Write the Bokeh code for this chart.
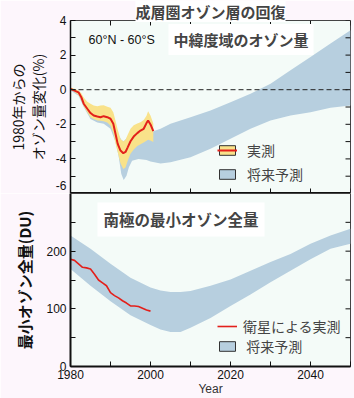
import math
from bokeh.plotting import figure
from bokeh.layouts import column
from bokeh.models import (Range1d, FixedTicker, Span, Label,
                          Legend, LegendItem, ColumnDataSource)
from bokeh.embed import file_html
from bokeh.resources import INLINE

JP = "Noto Sans CJK JP"
SANS = "Liberation Sans"

# ---------------- data: mid-latitude ozone change (%) ----------------
obs_years = [1980.0, 1981.0, 1982.0, 1982.7, 1983.3, 1984.2, 1985.0, 1985.8, 1986.7,
             1987.5, 1988.3, 1989.2, 1990.0, 1990.7, 1991.25, 1991.8, 1992.5, 1993.2,
             1993.75, 1994.3, 1995.0, 1995.8, 1996.7, 1997.5, 1998.3, 1999.0, 1999.4,
             2000.0, 2000.7]
obs_change = [0.05, -0.05, -0.15, -0.43, -0.81, -1.10, -1.35, -1.49, -1.55,
              -1.59, -1.53, -1.59, -1.68, -1.97, -2.55, -3.13, -3.52, -3.67,
              -3.60, -3.33, -2.98, -2.71, -2.51, -2.36, -2.26, -1.93, -1.78,
              -2.01, -2.40]
obs_upper = [0.12, 0.05, -0.04, -0.20, -0.45, -0.70, -0.81, -0.91, -0.95,
             -0.92, -0.90, -0.98, -1.05, -1.30, -1.80, -2.30, -2.85, -3.00,
             -2.90, -2.60, -2.26, -2.05, -1.95, -1.88, -1.75, -1.50, -1.24,
             -1.49, -1.95]
obs_lower = [0.00, -0.12, -0.30, -0.60, -0.95, -1.30, -1.59, -1.70, -1.78,
             -1.80, -1.82, -1.90, -2.07, -2.50, -3.10, -3.60, -4.25, -4.58,
             -4.50, -4.10, -3.70, -3.45, -3.25, -3.15, -3.05, -2.95, -2.90,
             -2.94, -3.03]

mid_years = [1980, 1982, 1983.3, 1985, 1986.7, 1988.3, 1990, 1991.25, 1992, 1992.7,
             1993.3, 1994, 1994.6, 1995.4, 1997, 1999, 2000, 2002.5, 2005, 2010,
             2015, 2020, 2025, 2030, 2035, 2040, 2045, 2050]
mid_upper = [0.0, -0.2, -0.8, -1.2, -1.45, -1.5, -1.6, -2.2, -2.6, -2.9,
             -3.0, -2.8, -2.6, -2.4, -2.4, -2.4, -2.46, -2.25, -1.97, -1.59,
             -1.2, -0.72, -0.23, 0.35, 1.12, 1.89, 2.67, 3.44]
mid_lower = [-0.05, -0.35, -1.0, -1.7, -1.9, -1.97, -2.26, -3.03, -3.8, -4.87,
             -5.22, -4.97, -4.48, -4.1, -4.0, -4.06, -4.15, -4.26, -4.2, -3.91,
             -3.42, -2.84, -2.26, -1.78, -1.49, -1.3, -1.04, -0.91]

# ---------------- data: Antarctic minimum total ozone (DU) ----------------
ant_years = list(range(1980, 2001))
ant_min = [186, 184, 178, 172, 171, 169, 160, 150, 145, 140, 128,
           123, 119, 114, 110, 105, 105, 104, 101, 98, 96]

proj_years = [1980, 1985, 1990, 1995, 2000, 2002.5, 2005, 2007.5, 2010, 2015,
              2020, 2025, 2030, 2035, 2040, 2045, 2050]
proj_upper = [227, 204, 178, 154, 137, 132, 129, 129, 131, 140,
              151, 166, 181, 195, 213, 227, 239]
proj_lower = [169, 140, 113, 89, 72, 64, 60, 60, 67, 84,
              105, 125, 146, 166, 186, 204, 213]

x_major = [1980, 2000, 2020, 2040]
x_minor = [1990, 2010, 2030, 2050]
top_y_major = [-6, -4, -2, 0, 2, 4]
top_y_minor = [-5, -3, -1, 1, 3]
bot_y_major = [0, 100, 200]
bot_y_minor = [50, 150, 250]

BLUE = "#b7cfdf"
YELLOW = "#f9e28a"
RED = "#e3201b"
PLOT_BG = "#f4fbf8"
PAGE_BG = "#fdf6fc"
NAN = float("nan")
TICK_PX = 5


def style_axis(ax, width=1.5):
    ax.major_tick_in = TICK_PX
    ax.major_tick_out = 0
    ax.minor_tick_in = TICK_PX
    ax.minor_tick_out = 0
    ax.axis_line_color = "#111111"
    ax.axis_line_width = width
    ax.major_tick_line_color = "#111111"
    ax.minor_tick_line_color = "#111111"
    ax.major_label_text_font = SANS
    ax.major_label_text_font_size = "12px"
    ax.major_label_text_color = "#111111"
    ax.major_label_standoff = 4


def inner_ticks(p, xr, yr, fw, fh, top=True, right=True, bottom=False):
    """Inner tick marks on the frame edges that carry no axis, from the tick lists."""
    xt = x_major + x_minor
    dy = (yr.end - yr.start) / fh * TICK_PX
    dx = (xr.end - xr.start) / fw * TICK_PX
    yt = list(p.yaxis[0].ticker.ticks) + list(p.yaxis[0].ticker.minor_ticks)
    if top:
        p.segment(x0=xt, y0=[yr.end] * len(xt), x1=xt, y1=[yr.end - dy] * len(xt),
                  line_color="#111111", line_width=1)
    if bottom:
        p.segment(x0=xt, y0=[yr.start] * len(xt), x1=xt, y1=[yr.start + dy] * len(xt),
                  line_color="#111111", line_width=1)
    if right:
        p.segment(x0=[xr.end] * len(yt), y0=yt, x1=[xr.end - dx] * len(yt), y1=yt,
                  line_color="#111111", line_width=1)


# ---------------- top panel ----------------
xr1 = Range1d(1980, 2050)
yr1 = Range1d(-6, 4)
p1 = figure(width=354, height=193, x_range=xr1, y_range=yr1,
            output_backend="svg", toolbar_location=None,
            min_border_left=70, min_border_right=4, min_border_top=0, min_border_bottom=0,
            background_fill_color=PLOT_BG, border_fill_color=PAGE_BG,
            outline_line_color="#444444")
p1.grid.visible = False
p1.xaxis.visible = False
p1.title.text = "成層圏オゾン層の回復"
p1.title.align = "center"
p1.title.text_font = JP
p1.title.text_font_size = "15px"
p1.title.text_font_style = "bold"
p1.title.standoff = -3
p1.title.offset = 0
p1.title.background_fill_color = "white"

p1.yaxis.ticker = FixedTicker(ticks=top_y_major, minor_ticks=top_y_minor)
style_axis(p1.yaxis[0])
p1.yaxis.major_label_overrides = {-6: "-6\n", -4: "-4", -2: "-2", 0: "0", 2: "2", 4: "4"}
p1.yaxis.major_label_text_line_height = 0.05
p1.yaxis.axis_label = "1980年からの\nオゾン量変化(%)"
p1.yaxis.axis_label_text_font = JP
p1.yaxis.axis_label_text_font_size = "14px"
p1.yaxis.axis_label_text_font_style = "normal"
p1.yaxis.axis_label_text_color = "#111111"
p1.yaxis.axis_label_text_line_height = 1.0
p1.yaxis.axis_label_standoff = 5

src_mid = ColumnDataSource(dict(x=mid_years, lo=mid_lower, hi=mid_upper))
src_obs = ColumnDataSource(dict(x=obs_years, lo=obs_lower, hi=obs_upper, y=obs_change))
p1.varea(x="x", y1="lo", y2="hi", source=src_mid, fill_color=BLUE)
p1.varea(x="x", y1="lo", y2="hi", source=src_obs, fill_color=YELLOW)
red1 = p1.line(x="x", y="y", source=src_obs, line_color=RED, line_width=2)
p1.add_layout(Span(location=0, dimension="width", line_color="#222222",
                   line_dash="5 3", line_width=1))
p1.add_layout(Span(location=-6, dimension="width", line_color="#111111", line_width=3))
inner_ticks(p1, xr1, yr1, 280, 173, top=True, right=True, bottom=True)

# legend-only swatch renderers (no visible data point)
dummy_src = ColumnDataSource(dict(x=[NAN], y=[NAN]))
sw_obs = p1.rect(x="x", y="y", width=1, height=1, source=dummy_src,
                 fill_color=YELLOW, line_color="#333333", line_width=1)
sw_blue1 = p1.rect(x="x", y="y", width=1, height=1, source=dummy_src,
                   fill_color=BLUE, line_color="#333333", line_width=1)

leg1 = Legend(items=[LegendItem(label="実測", renderers=[sw_obs, red1]),
                     LegendItem(label="将来予測", renderers=[sw_blue1])],
              location=(147, 9), glyph_width=20, glyph_height=12,
              label_text_font=JP, label_text_font_size="14px", label_height=14,
              label_standoff=10, spacing=4, padding=0, margin=0,
              background_fill_alpha=0, border_line_alpha=0)
p1.add_layout(leg1)

p1.add_layout(Label(x=1984.5, y=2.9, text="60°N - 60°S", text_font=SANS,
                    text_font_size="12.5px", text_align="left", text_baseline="middle",
                    text_color="#111111"))
p1.add_layout(Label(x=2004.5, y=2.9, text="中緯度域のオゾン量", text_font=JP,
                    text_font_style="bold", text_font_size="15px",
                    text_align="left", text_baseline="middle",
                    background_fill_color="white", padding=5))

# ---------------- bottom panel ----------------
xr2 = Range1d(1980, 2050)
yr2 = Range1d(0, 300)
p2 = figure(width=354, height=205, x_range=xr2, y_range=yr2,
            output_backend="svg", toolbar_location=None,
            min_border_left=70, min_border_right=4, min_border_top=0, min_border_bottom=32,
            background_fill_color=PLOT_BG, border_fill_color=PAGE_BG,
            outline_line_color="#444444")
p2.grid.visible = False
p2.xaxis.ticker = FixedTicker(ticks=x_major, minor_ticks=x_minor)
style_axis(p2.xaxis[0], width=2)
p2.xaxis.major_label_standoff = 3
p2.xaxis.axis_label = "Year"
p2.xaxis.axis_label_text_font = SANS
p2.xaxis.axis_label_text_font_style = "normal"
p2.xaxis.axis_label_text_font_size = "12px"
p2.xaxis.axis_label_text_color = "#333333"
p2.xaxis.axis_label_standoff = 0
p2.yaxis.ticker = FixedTicker(ticks=bot_y_major, minor_ticks=bot_y_minor)
style_axis(p2.yaxis[0], width=2)
p2.yaxis.axis_label = "最小オゾン全量(DU)"
p2.yaxis.axis_label_text_font = JP
p2.yaxis.axis_label_text_font_size = "15px"
p2.yaxis.axis_label_text_font_style = "bold"
p2.yaxis.axis_label_text_color = "#111111"
p2.yaxis.axis_label_standoff = 8
inner_ticks(p2, xr2, yr2, 280, 171, top=False, right=True, bottom=False)

src_proj = ColumnDataSource(dict(x=proj_years, lo=proj_lower, hi=proj_upper))
src_ant = ColumnDataSource(dict(x=ant_years, y=ant_min))
p2.varea(x="x", y1="lo", y2="hi", source=src_proj, fill_color=BLUE)
red2 = p2.line(x="x", y="y", source=src_ant, line_color=RED, line_width=1.6)
dummy_src2 = ColumnDataSource(dict(x=[NAN], y=[NAN]))
sw_blue2 = p2.rect(x="x", y="y", width=1, height=1, source=dummy_src2,
                   fill_color=BLUE, line_color="#333333", line_width=1)

leg2 = Legend(items=[LegendItem(label="衛星による実測", renderers=[red2]),
                     LegendItem(label=" 将来予測", renderers=[sw_blue2])],
              location=(147, 10), glyph_width=20, glyph_height=12,
              label_text_font=JP, label_text_font_size="14px", label_height=14,
              label_standoff=6, spacing=0, padding=0, margin=0,
              background_fill_alpha=0, border_line_alpha=0)
p2.add_layout(leg2)

p2.add_layout(Label(x=1986.75, y=255, text="南極の最小オゾン全量", text_font=JP,
                    text_font_style="bold", text_font_size="15.5px",
                    text_align="left", text_baseline="middle",
                    background_fill_color="white", padding=6))

layout = column(p1, p2, spacing=0)
open("out.html", "w").write(file_html(layout, INLINE))
